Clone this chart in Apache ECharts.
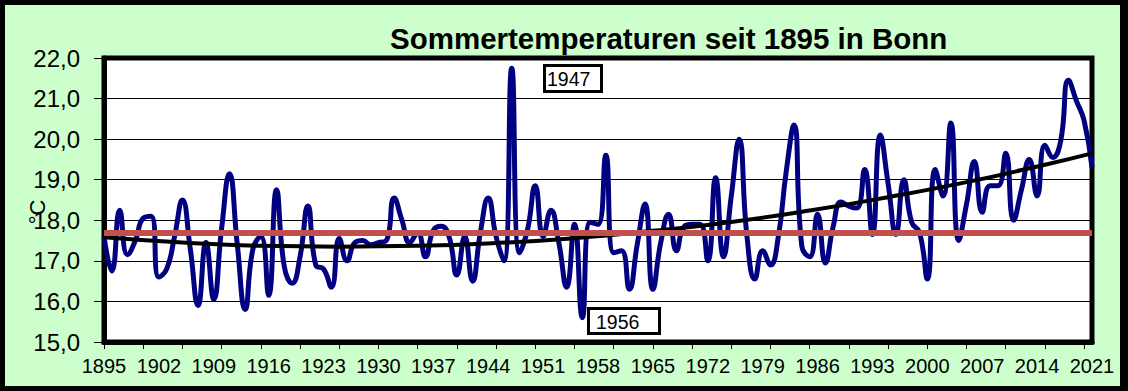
<!DOCTYPE html>
<html>
<head>
<meta charset="utf-8">
<script src="https://cdn.jsdelivr.net/npm/echarts@6/dist/echarts.min.js"></script>
<style>
  html, body { margin: 0; padding: 0; background: #ccffcc; }
  #c { width: 1128px; height: 391px; background: #ccffcc;
       box-shadow: inset 5px 5px 0 0 #000, inset -8px -5px 0 0 #000; }
</style>
</head>
<body>
<div id="c"></div>
<script>
// ---- data ----
const firstYear = 1895;
const lastYear = 2021;
const years = [];
for (let y = firstYear; y <= lastYear; y++) years.push(String(y));

// summer mean temperature (°C), 1895..2021
const summerTemps = [
  17.6, 16.75, 18.25, 17.15, 17.5,                                   // 1895-1899
  18.05, 18.1, 16.6, 16.8, 17.6, 18.5, 17.3, 15.9, 17.45, 16.05,      // 1900s
  17.8, 19.15, 17.4, 15.8, 17.3, 17.6, 16.15, 18.75, 16.85, 16.45,    // 1910s
  17.1, 18.35, 16.9, 16.8, 16.35, 17.55, 17.0, 17.45, 17.5, 17.4,     // 1920s
  17.45, 17.5, 18.55, 18.0, 17.45, 17.7, 17.1, 17.75, 17.85, 17.6,    // 1930s
  16.65, 17.6, 16.5, 17.7, 18.55, 17.6, 17.0, 21.75, 17.2, 17.75,     // 1940s
  18.85, 17.6, 18.25, 17.45, 16.35, 17.9, 15.6, 17.95, 17.9, 19.6,    // 1950s
  17.2, 17.25, 16.3, 17.4, 18.4, 16.3, 17.45, 18.15, 17.25, 17.85,    // 1960s
  17.9, 17.9, 17.0, 19.05, 17.1, 18.6, 20.0, 17.6, 16.55, 17.25,      // 1970s
  16.9, 17.6, 19.2, 20.35, 17.35, 17.1, 18.15, 16.95, 17.85, 18.45,   // 1980s
  18.35, 18.3, 19.25, 17.65, 20.1, 18.9, 17.65, 19.0, 17.95, 17.7,    // 1990s
  16.55, 19.25, 18.6, 20.4, 17.5, 18.4, 19.45, 18.2, 18.85, 18.85,    // 2000s
  19.65, 18.0, 18.75, 19.5, 18.6, 19.85, 19.55, 19.95, 21.45, 20.95,  // 2010s
  20.45, 19.3                                                         // 2020-2021
];

// trend curve at a few years
const trendYears  = [1895, 1905, 1915, 1925, 1935, 1945, 1955, 1965, 1975, 1985, 1995, 2005, 2015, 2021];
const trendValues = [17.58, 17.45, 17.37, 17.35, 17.37, 17.44, 17.56, 17.74, 17.96, 18.24, 18.57, 18.94, 19.37, 19.65];

// long-term mean (red line)
const meanValue = 17.7;

// y tick labels
const yMin = 15, yMax = 22, yStep = 1;

// annotations
const annotations = ['1947', '1956'];

// ---- build ----
const trendSeries = years.map(y => {
  const i = trendYears.indexOf(Number(y));
  return i >= 0 ? trendValues[i] : null;
});

const font = "'Liberation Sans', Arial, sans-serif";
const chart = echarts.init(document.getElementById('c'), null, { renderer: 'svg', width: 1128, height: 391 });

chart.setOption({
  backgroundColor: 'transparent',
  animation: false,
  title: {
    text: 'Sommertemperaturen seit 1895 in Bonn',
    left: 385, top: 18,
    textStyle: { fontFamily: font, fontSize: 29.5, fontWeight: 'bold', color: '#000' }
  },
  grid: {
    left: 104, right: 36, top: 58, bottom: 49,
    show: true, backgroundColor: '#ffffff', borderColor: '#000', borderWidth: 5
  },
  xAxis: {
    type: 'category', data: years, boundaryGap: false,
    axisLine: { show: true, lineStyle: { color: '#000', width: 5 } },
    axisTick: { show: true, interval: 4, length: 7, lineStyle: { color: '#000', width: 1 } },
    axisLabel: { interval: 6, fontFamily: font, fontSize: 20, color: '#000', margin: 14 },
    splitLine: { show: false }
  },
  yAxis: {
    type: 'value', min: yMin, max: yMax, interval: yStep,
    axisLine: { show: true, lineStyle: { color: '#000', width: 5 } },
    axisTick: { show: true, length: 10, lineStyle: { color: '#000', width: 1 } },
    axisLabel: { fontFamily: font, fontSize: 24, color: '#000', margin: 24,
                 formatter: v => v.toFixed(1).replace('.', ',') },
    splitLine: { show: true, lineStyle: { color: '#000', width: 1 } }
  },
  series: [
    {
      name: 'Sommer', type: 'line', data: summerTemps, smooth: 0.5,
      showSymbol: false, z: 2,
      lineStyle: { color: '#000080', width: 5 },
      markLine: {
        silent: true, symbol: 'none', label: { show: false },
        lineStyle: { color: '#c0504d', width: 6, type: 'solid' },
        data: [{ yAxis: meanValue }], z: 5
      }
    },
    {
      name: 'Trend', type: 'line', data: trendSeries, smooth: 0.5, connectNulls: true,
      showSymbol: false, z: 3,
      lineStyle: { color: '#000', width: 4 }
    }
  ],
  graphic: [
    { type: 'text', x: 37, y: 212, rotation: Math.PI / 2,
      style: { text: '°C', fontFamily: font, fontSize: 22, fill: '#000', textAlign: 'center', textVerticalAlign: 'middle' } },
    { type: 'rect', shape: { x: 544.5, y: 65.5, width: 57, height: 26 }, z: 10,
      style: { fill: '#fff', stroke: '#000', lineWidth: 3 } },
    { type: 'text', x: 547, y: 79, z: 11,
      style: { text: annotations[0], fontFamily: font, fontSize: 19.5, fill: '#000', textVerticalAlign: 'middle' } },
    { type: 'rect', shape: { x: 588.5, y: 308.5, width: 71, height: 25 }, z: 10,
      style: { fill: '#fff', stroke: '#000', lineWidth: 3 } },
    { type: 'text', x: 596, y: 322, z: 11,
      style: { text: annotations[1], fontFamily: font, fontSize: 19.5, fill: '#000', textVerticalAlign: 'middle' } }
  ]
});
</script>
</body>
</html>
